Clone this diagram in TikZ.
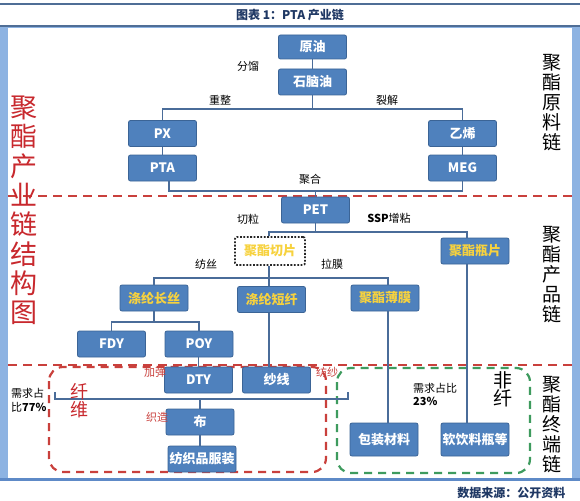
\documentclass[tikz,border=0pt]{standalone}
\usepackage{fontspec}
\setmainfont{Noto Sans CJK SC}
\usetikzlibrary{calc}
\definecolor{boxblue}{HTML}{4F81BD}
\definecolor{boxedge}{HTML}{3B6496}
\definecolor{linec}{HTML}{4A6C99}
\definecolor{ytext}{HTML}{F7D23E}
\definecolor{dred}{HTML}{C9403C}
\definecolor{dgreen}{HTML}{3E9B5E}
\definecolor{frameblue}{HTML}{8DB3E2}
\definecolor{framedark}{HTML}{5E8AC7}
\definecolor{rulec}{HTML}{4F6E96}
\definecolor{titlec}{HTML}{1F3864}
\definecolor{lred}{HTML}{C8282D}
\begin{document}
\begin{tikzpicture}[x=1pt,y=-1pt,
  bx/.style={draw=boxedge, fill=boxblue, rounded corners=2pt, line width=0.8pt,
    minimum width=68pt, minimum height=26pt, inner sep=0pt, text=white,
    font=\fontsize{13}{13}\selectfont\bfseries},
  yb/.style={bx, text=ytext},
  cl/.style={draw=linec, line width=1.4pt},
  lb/.style={font=\fontsize{11}{11}\selectfont, inner sep=0pt},
  rlb/.style={lb, text=dred},
  sidel/.style={font=\fontsize{19}{20}\selectfont, align=center, inner sep=0pt},
  sepline/.style={dred, line width=2.5pt, dash pattern=on 9pt off 6pt},
]
\useasboundingbox (0,0) rectangle (580,500);
% frame
\fill[white] (0,0) rectangle (580,500);
\draw[rulec, line width=2.5pt] (0,4) -- (580,4);
\node[font=\fontsize{12}{12}\selectfont\bfseries, text=titlec] (title) at (290,15) {图表 1：PTA 产业链};
\fill[frameblue] (0,27) rectangle (580,481);
\fill[white] (8,28) rectangle (572,477.5);
\fill[framedark] (0,477.5) rectangle (580,481);
\draw[rulec, line width=2pt] (0,26.5) -- (580,26.5);
\node[font=\fontsize{12}{12}\selectfont\bfseries, text=titlec, anchor=east] (src) at (569,493) {数据来源：公开资料};

% separators
\draw[sepline] (8,196) -- (572,196);
\draw[sepline] (8,365) -- (572,365);
\draw[dred, line width=2.2pt, dash pattern=on 8pt off 6pt, rounded corners=14pt] (49,367) rectangle (326,472);
\draw[dgreen, line width=2.2pt, dash pattern=on 8pt off 6pt, rounded corners=14pt] (337,368) rectangle (530,473);

% side labels
\node[font=\fontsize{27}{29.3}\selectfont, align=center, inner sep=0pt, text=lred] (lt) at (24,210.5) {聚\\酯\\产\\业\\链\\结\\构\\图};
\node[sidel] (s1) at (552,103) {聚\\酯\\原\\料\\链};
\node[sidel] (s2) at (552,275) {聚\\酯\\产\\品\\链};
\node[sidel] (s3) at (552,425) {聚\\酯\\终\\端\\链};

% boxes
\node[bx, minimum height=24pt] (yy) at (312.5,47) {原油};
\node[bx] (snn) at (312.5,82) {石脑油};
\node[bx] (px) at (162.5,133.5) {PX};
\node[bx] (pta) at (162.5,168) {PTA};
\node[bx] (yx) at (462.5,133.5) {乙烯};
\node[bx] (meg) at (462.5,168) {MEG};
\node[bx] (pet) at (315.5,210) {PET};
\node[draw=black!85, fill=white, line width=1.8pt, dash pattern=on 1.8pt off 1.6pt, rounded corners=2pt,
  minimum width=70pt, minimum height=28pt, inner sep=0pt, text=ytext,
  font=\fontsize{13}{13}\selectfont\bfseries] (qp) at (270,251) {聚酯切片};
\node[yb] (bp) at (475,251) {聚酯瓶片};
\node[yb] (cs) at (154,298) {涤纶长丝};
\node[yb] (dx) at (271.5,299.5) {涤纶短纤};
\node[yb] (bm) at (385,298) {聚酯薄膜};
\node[bx] (fdy) at (111.5,344) {FDY};
\node[bx] (poy) at (199,344) {POY};
\node[bx] (dty) at (198.5,380) {DTY};
\node[bx] (sx) at (276.5,380) {纱线};
\node[bx] (bu) at (200,422) {布};
\node[bx] (fz) at (202,459) {纺织品服装};
\node[bx, minimum height=33pt] (bz) at (384,439.5) {包装材料};
\node[bx, minimum height=33pt] (yl) at (475,439.5) {软饮料瓶等};

% connectors
\coordinate (j1) at (312.5,109);
\coordinate (j2) at (169,191);
\coordinate (j3) at (269,232);
\coordinate (j3r) at (467,232);
\coordinate (j4) at (154,278);
\coordinate (j4b) at (269,278);
\coordinate (j4r) at (388,278);
\coordinate (j5) at (154,322);
\coordinate (bl) at (55,399);
\coordinate (br) at (348,399);

\draw[cl] (yy) -- (snn);
\draw[cl] (snn.south) -- (j1);
\draw[cl] (px.north) -- (px.north |- j1) -- (yx.north |- j1) -- (yx.north);
\draw[cl] (px) -- (pta);
\draw[cl] (yx) -- (meg);
\draw[cl] (pta.south -| j2) -- (j2) -- (meg.south |- j2) -- (meg.south);
\draw[cl] (pet.north |- j2) -- (pet.north);
\draw[cl] (pet.south) -- (pet.south |- j3);
\draw[cl] (j3 |- qp.north) -- (j3) -- (j3r) -- (j3r |- bp.north);
\draw[cl] (j4b |- qp.south) -- (j4b);
\draw[cl] (cs.north) -- (j4) -- (j4r) -- (j4r |- bm.north);
\draw[cl] (j4b) -- (j4b |- dx.north);
\draw[cl] (cs.south) -- (j5);
\draw[cl] (fdy.north) -- (fdy.north |- j5) -- (poy.north |- j5) -- (poy.north);
\draw[cl] (poy.south -| dty.north) -- (dty.north);
\draw[cl] (j4b |- dx.south) -- (j4b |- sx.north);
\draw[cl] ($(bl)+(0,-7)$) -- (bl) -- (br) -- ($(br)+(0,-7)$);
\draw[cl] (bu.north |- bl) -- (bu.north);
\draw[cl] (bu.south) -- (bu.south |- fz.north);
\draw[cl] (j4r |- bm.south) -- (j4r |- bz.north);
\draw[cl] (j3r |- bp.south) -- (j3r |- yl.north);

% labels
\node[lb] (l1) at (248,66) {分馏};
\node[lb] (l2) at (220,100) {重整};
\node[lb] (l3) at (387,100) {裂解};
\node[lb] (l4) at (310,179) {聚合};
\node[lb] (l5) at (248,219) {切粒};
\node[lb] (l6) at (389,218) {\textbf{SSP}增粘};
\node[lb] (l7) at (206,264) {纺丝};
\node[lb] (l8) at (332,264) {拉膜};
\node[rlb] (l9) at (155,372) {加弹};
\node[rlb] (l10) at (327,372) {纺纱};
\node[rlb] (l11) at (157,417) {织造};
\node[lb, align=left, anchor=west, font=\fontsize{11}{14}\selectfont] (l12) at (11,400) {需求占\\比\textbf{77\%}};
\node[lb, align=left, anchor=west, font=\fontsize{11}{13}\selectfont] (l13) at (413,394.5) {需求占比\\\textbf{23\%}};
\node[font=\fontsize{18}{18}\selectfont, align=center, inner sep=0pt, text=lred] (xw) at (79,401) {纤\\维};
\node[font=\fontsize{19}{18}\selectfont, align=center, inner sep=0pt] (fx) at (503,389) {非\\纤};
\end{tikzpicture}
\end{document}
